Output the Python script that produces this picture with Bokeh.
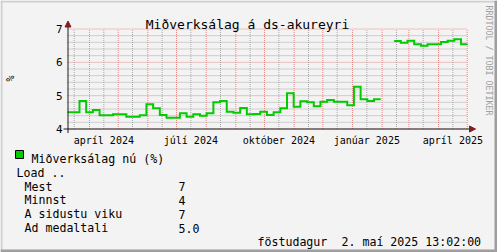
from datetime import datetime, timedelta, timezone
import math
from bokeh.plotting import figure
from bokeh.models import Label, Arrow, NormalHead, BoxAnnotation, Range1d, ColumnDataSource
from bokeh.embed import file_html
from bokeh.resources import INLINE

UTC = timezone.utc


def ms(d):
    return d.timestamp() * 1000.0


# ---------------- data ----------------
title_text = "Miðverksálag á ds-akureyri"
y_unit = "%"
series_name = "Miðverksálag nú (%)"
watermark = "RRDTOOL / TOBI OETIKER"
first_week = datetime(2024, 3, 7, 13, 0, tzinfo=UTC)
weekly_load = [4.50, 4.50, 4.84, 4.50, 4.57, 4.41, 4.41, 4.44, 4.44, 4.37,
               4.37, 4.41, 4.74, 4.62, 4.42, 4.34, 4.34, 4.47, 4.37, 4.44,
               4.40, 4.47, 4.80, 4.84, 4.52, 4.49, 4.63, 4.44, 4.45, 4.52,
               4.42, 4.50, 4.62, 5.07, 4.67, 4.83, 4.80, 4.68, 4.82, 4.87,
               4.82, 4.82, 4.71, 5.27, 4.89, 4.84, 4.89, None, None, 6.64,
               6.59, 6.65, 6.54, 6.50, 6.54, 6.54, 6.61, 6.65, 6.69, 6.54]
x_tick_dates = [datetime(2024, 4, 16, tzinfo=UTC), datetime(2024, 7, 16, tzinfo=UTC),
                datetime(2024, 10, 16, tzinfo=UTC), datetime(2025, 1, 16, tzinfo=UTC),
                datetime(2025, 4, 16, tzinfo=UTC)]
x_tick_labels = ["apríl 2024", "júlí 2024", "október 2024", "janúar 2025", "apríl 2025"]
y_ticks = [4, 5, 6, 7]
y_min, y_max = 4, 7
legend_header = "Load .."
stat_labels = ["Mest", "Minnst", "A sidustu viku", "Ad medaltali"]
stat_values = ["7", "4", "7", "5.0"]
timestamp_day = "föstudagur"
timestamp_rest = "2. maí 2025 13:02:00"

x_start = datetime(2024, 3, 9, 0, 0, tzinfo=UTC)
x_end = datetime(2025, 5, 1, 7, 0, tzinfo=UTC)

# ---------------- layout / colours ----------------
W, H = 497, 252
PL, PR = 67, 467          # plot area left/right (canvas px)
PT, PB = 28.5, 128.5      # plot area top/bottom (canvas px)
BG = "#F3F3F3"
GREEN = "#00CC00"
MONO = "DejaVu Sans Mono"
ARROW_C = "#801F1F"
AXIS_C = "#1F1F1F"
MGRID = "#E58A8A"
GRID = "#A8A8A8"

# ranges chosen so the whole canvas is the frame and the plot area lands at PL..PR / PT..PB
t0, t1 = ms(x_start), ms(x_end)
k = (t1 - t0) / (PR - PL)                 # ms per px
xr = Range1d(t0 - PL * k, t0 + (W - PL) * k)
u = (y_max - y_min) / (PB - PT)          # value per px
yr = Range1d(y_min - (H - PB) * u, y_max + PT * u)

p = figure(width=W, height=H, output_backend="svg", toolbar_location=None,
           x_range=xr, y_range=yr, min_border=0,
           background_fill_color=BG, border_fill_color=BG, outline_line_color=None,
           title=None)
p.axis.visible = False
p.grid.visible = False

# grid lines (drawn inside the plot area only)
month_starts, mid_months = [], []
yy, mm = 2024, 3
while (yy, mm) <= (2025, 5):
    d1 = datetime(yy, mm, 1, tzinfo=UTC)
    d16 = datetime(yy, mm, 16, tzinfo=UTC)
    if x_start <= d1 <= x_end + timedelta(days=1):
        month_starts.append(ms(d1))
    if x_start <= d16 <= x_end:
        mid_months.append(ms(d16))
    mm += 1
    if mm > 12:
        mm = 1
        yy += 1
minor_y = [y_min + 0.2 * i for i in range(1, 15) if i % 5]

p.segment(x0=mid_months, x1=mid_months, y0=[y_min] * len(mid_months), y1=[y_max] * len(mid_months),
          line_color=GRID, line_width=1, line_dash="1 1")
p.segment(x0=[t0] * len(minor_y), x1=[t1] * len(minor_y), y0=minor_y, y1=minor_y,
          line_color=GRID, line_width=1, line_dash="1 1")
p.segment(x0=month_starts, x1=month_starts, y0=[y_min] * len(month_starts), y1=[y_max] * len(month_starts),
          line_color=MGRID, line_width=1, line_dash="1 1")
p.segment(x0=[t0] * len(y_ticks), x1=[t1] * len(y_ticks), y0=y_ticks, y1=y_ticks,
          line_color=MGRID, line_width=1, line_dash="1 1")

# step line built from the weekly values
xs, ys = [], []
for i, v in enumerate(weekly_load):
    a = first_week + timedelta(days=7 * i)
    b = a + timedelta(days=7)
    val = float("nan") if v is None else v
    xs += [ms(a), ms(b)]
    ys += [val, val]
xs = [min(max(x, t0), t1) for x in xs]
src = ColumnDataSource(dict(x=xs, y=ys))
p.line("x", "y", source=src, line_color=GREEN, line_width=2, line_join="miter")


def sy(cy):
    return H - cy


# axis lines with arrows
p.add_layout(Arrow(x_start=PL - 4, y_start=sy(PB), x_end=PR + 8, y_end=sy(PB),
                   start_units="screen", end_units="screen", line_color=AXIS_C, line_width=1,
                   end=NormalHead(size=6, fill_color=ARROW_C, line_color=ARROW_C)))
p.add_layout(Arrow(x_start=PL + 0.5, y_start=sy(PB + 4), x_end=PL + 0.5, y_end=sy(PT - 8),
                   start_units="screen", end_units="screen", line_color=AXIS_C, line_width=1,
                   end=NormalHead(size=6, fill_color=ARROW_C, line_color=ARROW_C)))


def label(x, cy, text, size="11.6px", align="left", baseline="alphabetic", angle=0.0,
          color="black", x_units="screen", y_units="screen", y=None):
    p.add_layout(Label(x=x, y=(sy(cy) if y is None else y), x_units=x_units, y_units=y_units,
                       text=text, text_font=MONO, text_font_size=size, text_align=align,
                       text_baseline=baseline, angle=angle, text_color=color))


# tick labels
for d, lab in zip(x_tick_dates, x_tick_labels):
    label(ms(d), 140, lab, size="10px", align="center", x_units="data")
for t in y_ticks:
    label(62, None, str(t), size="11px", align="right", baseline="middle", y_units="data", y=t)

label(247, 24, title_text, size="13px", align="center")
label(10, 78, y_unit, size="10px", align="center", baseline="middle", angle=math.pi / 2)
label(488, 5, watermark, size="8.3px", align="left", baseline="middle", angle=-math.pi / 2,
      color="#A0A0A0")

# legend
p.add_layout(BoxAnnotation(left=15, right=23, top=sy(150), bottom=sy(158),
                           left_units="screen", right_units="screen", top_units="screen",
                           bottom_units="screen", fill_color=GREEN, fill_alpha=1,
                           line_color="black", line_width=1, line_alpha=1))
label(31, 158.3, series_name)
label(16, 172.3, legend_header)
for i, (lab, val) in enumerate(zip(stat_labels, stat_values)):
    base = 186 + 13.9 * i
    label(24, base, lab)
    label(178, base, val)
label(257, 241.7, timestamp_day)
label(341, 241.7, timestamp_rest)

# 3D border
for l, r, t, b, c in [(0, W, 0, 2, "#CFCFCF"), (0, 2, 0, H, "#CFCFCF"),
                      (W - 3, W, 0, H, "#9E9E9E"), (0, W, H - 3, H, "#9E9E9E")]:
    p.add_layout(BoxAnnotation(left=l, right=r, top=sy(t), bottom=sy(b),
                               left_units="screen", right_units="screen", top_units="screen",
                               bottom_units="screen", fill_color=c, fill_alpha=1,
                               line_color=None))

open("out.html", "w").write(file_html(p, INLINE))
